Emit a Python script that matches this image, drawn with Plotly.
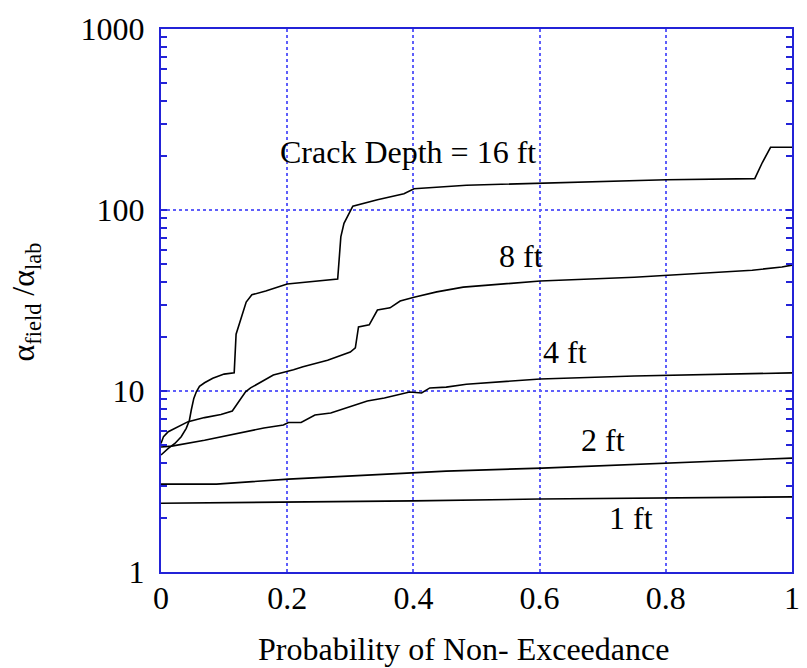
import math
import plotly.graph_objects as go

# Probability of non-exceedance (x) and field/lab ratio (y) for each crack depth
p_16 = [0.0, 0.0115, 0.022, 0.032, 0.040, 0.045, 0.048, 0.052, 0.056, 0.061, 0.069, 0.082,
        0.100, 0.116, 0.119, 0.135, 0.144, 0.166, 0.200, 0.240, 0.280, 0.285, 0.290, 0.304,
        0.343, 0.385, 0.401, 0.484, 0.601, 0.801, 0.941, 0.953, 0.966, 1.0]
r_16 = [4.43, 4.82, 5.13, 5.59, 6.22, 6.9, 7.85, 9.1, 9.9, 10.6, 11.1, 11.75,
        12.4, 12.6, 20.6, 31.0, 34.0, 35.7, 39.0, 40.3, 41.5, 71.0, 84.4, 105.0,
        114.0, 123.0, 131.0, 137.0, 141.0, 147.0, 149.0, 183.0, 222.0, 222.0]

p_8 = [0.0, 0.004, 0.0115, 0.022, 0.043, 0.069, 0.095, 0.113, 0.121, 0.129, 0.134, 0.142,
       0.158, 0.178, 0.210, 0.225, 0.264, 0.300, 0.308, 0.313, 0.330, 0.343, 0.363, 0.379,
       0.401, 0.437, 0.479, 0.601, 0.750, 0.801, 0.937, 0.984, 1.0]
r_8 = [5.13, 5.6, 5.96, 6.22, 6.77, 7.13, 7.42, 7.75, 8.55, 9.28, 9.9, 10.4,
       11.2, 12.25, 13.1, 13.6, 14.8, 16.4, 17.3, 22.6, 23.2, 28.0, 28.8, 31.4,
       33.0, 35.3, 37.5, 40.5, 42.5, 43.6, 46.5, 48.4, 49.6]

p_4 = [0.0, 0.017, 0.069, 0.100, 0.131, 0.163, 0.194, 0.202, 0.222, 0.244, 0.269, 0.327,
       0.354, 0.394, 0.413, 0.426, 0.452, 0.484, 0.601, 0.750, 1.0]
r_4 = [4.9, 4.96, 5.35, 5.63, 5.94, 6.25, 6.49, 6.7, 6.7, 7.37, 7.56, 8.8,
       9.15, 9.87, 9.75, 10.4, 10.5, 10.9, 11.65, 12.1, 12.6]

p_2 = [0.0, 0.088, 0.202, 0.401, 0.452, 0.604, 0.800, 1.0]
r_2 = [3.06, 3.06, 3.26, 3.52, 3.61, 3.75, 4.0, 4.26]

p_1 = [0.0, 0.2, 0.4, 0.6, 0.8, 1.0]
r_1 = [2.40, 2.43, 2.47, 2.53, 2.57, 2.60]

series = [(p_16, r_16), (p_8, r_8), (p_4, r_4), (p_2, r_2), (p_1, r_1)]

# Curve labels: text, x position, y value
label_text = ["Crack Depth = 16 ft", "8 ft", "4 ft", "2 ft", "1 ft"]
label_x = [0.392, 0.571, 0.640, 0.700, 0.745]
label_y = [209.0, 55.7, 16.4, 5.36, 1.99]

x_ticks = [0, 0.2, 0.4, 0.6, 0.8, 1]
x_tick_text = ["0", "0.2", "0.4", "0.6", "0.8", "1"]
y_ticks = [1, 10, 100, 1000]
y_tick_text = ["1", "10", "100", "1000"]
y_minor = [m * 10 ** e for e in range(3) for m in range(2, 10)]

FONT = "Liberation Serif, Times New Roman, serif"
FRAME = "rgb(35,35,215)"
GRID = "rgb(95,95,250)"
SIZE = 32

fig = go.Figure()
for px, ry in series:
    fig.add_trace(go.Scatter(x=px, y=ry, mode="lines",
                             line=dict(color="black", width=1.6),
                             showlegend=False, hoverinfo="skip"))

for t, lx, ly in zip(label_text, label_x, label_y):
    fig.add_annotation(x=lx, y=math.log10(ly), text=t, showarrow=False,
                       xanchor="center", yanchor="middle",
                       font=dict(family=FONT, size=SIZE, color="black"))

fig.add_annotation(xref="paper", yref="paper", x=0.479, y=-0.142,
                   text="Probability of Non- Exceedance", showarrow=False,
                   xanchor="center", yanchor="middle",
                   font=dict(family=FONT, size=SIZE, color="black"))
fig.add_annotation(xref="paper", yref="paper", x=-0.215, y=0.497,
                   text="α<sub>field</sub> /α<sub>lab</sub>", showarrow=False,
                   textangle=-90, xanchor="center", yanchor="middle",
                   font=dict(family=FONT, size=SIZE, color="black"))

fig.update_layout(
    width=807, height=668,
    margin=dict(l=161, r=7, t=29, b=96),
    paper_bgcolor="white", plot_bgcolor="white",
    font=dict(family=FONT, size=SIZE, color="black"),
    xaxis=dict(range=[0, 1], tickvals=x_ticks, ticktext=x_tick_text,
               ticks="", showline=True, linecolor=FRAME, linewidth=2,
               mirror=True, showgrid=True, gridcolor=GRID, griddash="dot",
               gridwidth=1.5, zeroline=False, ticklabelstandoff=-3),
    yaxis=dict(type="log", range=[0, 3], tickvals=y_ticks, ticktext=y_tick_text,
               ticks="inside", ticklen=6, tickcolor=FRAME, tickwidth=1.5,
               showline=True, linecolor=FRAME, linewidth=2, mirror="allticks",
               showgrid=True, gridcolor=GRID, griddash="dot", gridwidth=1.5,
               zeroline=False, ticklabelstandoff=8,
               minor=dict(tickmode="array", tickvals=y_minor, ticks="inside",
                          ticklen=6, tickcolor=FRAME, tickwidth=1.5,
                          showgrid=False)),
)

fig.write_html("out.html")
